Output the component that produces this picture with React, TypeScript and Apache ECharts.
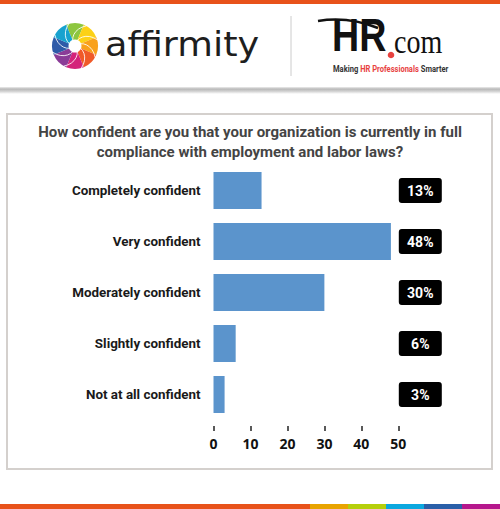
import React, { useEffect, useRef } from "react";
import * as echarts from "echarts";

const categories = [
  "Completely confident",
  "Very confident",
  "Moderately confident",
  "Slightly confident",
  "Not at all confident",
];
const percentValues = [13, 48, 30, 6, 3];
const xTicks = { min: 0, max: 50, interval: 10 };
const titleLines = [
  "How confident are you that your organization is currently in full",
  "compliance with employment and labor laws?",
];
const pinwheelColors = ["#8dc63f", "#fcd116", "#f9a11b", "#f05a28", "#d4237a", "#8a3b97", "#2e5aa8", "#17a2cf"];
const bottomStripe = [
  { x: 0, w: 310, c: "#e8521a" },
  { x: 310, w: 38, c: "#e8a400" },
  { x: 348, w: 38, c: "#b5cf0b" },
  { x: 386, w: 38, c: "#0ca8df" },
  { x: 424, w: 38, c: "#2a5fa8" },
  { x: 462, w: 38, c: "#b5178c" },
];

function buildGraphics() {
  const g: any[] = [];
  g.push({ type: "rect", shape: { x: 0, y: 0, width: 500, height: 4 }, style: { fill: "#e8521a" }, silent: true });
  g.push({
    type: "rect",
    shape: { x: 0, y: 87, width: 500, height: 7 },
    style: {
      fill: new echarts.graphic.LinearGradient(0, 0, 0, 1, [
        { offset: 0, color: "#ececec" },
        { offset: 0.3, color: "#b9b9b9" },
        { offset: 0.6, color: "#d0d0d0" },
        { offset: 1, color: "#ffffff" },
      ]),
    },
    silent: true,
  });
  const cx = 75, cy = 46, r = 23;
  pinwheelColors.forEach((c, i) => {
    const s = ((-112.5 + i * 45) * Math.PI) / 180;
    const e = ((-112.5 + (i + 1) * 45) * Math.PI) / 180;
    g.push({ type: "sector", shape: { cx, cy, r0: 0, r, startAngle: s, endAngle: e, clockwise: true }, style: { fill: c }, silent: true });
  });
  pinwheelColors.forEach((c, i) => {
    const a = ((-112.5 + i * 45) * Math.PI) / 180;
    const pts: number[][] = [];
    for (let k = 0; k <= 6; k++) {
      const t = k / 6;
      const rr = 6 + (r - 6) * t;
      const aa = a + 0.9 * t;
      pts.push([cx + rr * Math.cos(aa), cy + rr * Math.sin(aa)]);
    }
    g.push({ type: "polyline", shape: { points: pts }, style: { stroke: "rgba(255,255,255,0.85)", lineWidth: 1, fill: null }, silent: true });
  });
  g.push({ type: "circle", shape: { cx, cy, r: 6.5 }, style: { fill: "#ffffff" }, silent: true });
  g.push({
    type: "text",
    x: 105,
    y: 45,
    scaleX: 1.11,
    style: { text: "affirmity", font: "normal 33px 'DejaVu Sans'", fill: "#1e1e1e", textVerticalAlign: "middle", textAlign: "left" },
    silent: true,
  });
  g.push({ type: "line", shape: { x1: 291, y1: 16, x2: 291, y2: 76 }, style: { stroke: "#cccccc", lineWidth: 1 }, silent: true });
  g.push({
    type: "bezierCurve",
    shape: { x1: 318, y1: 21, cpx1: 348, cpy1: 16, x2: 378, y2: 28 },
    style: { stroke: "#111", lineWidth: 2.5, fill: null },
    silent: true,
  });
  g.push({
    type: "text",
    x: 332,
    y: 58,
    scaleX: 0.8,
    style: { text: "HR", font: "bold 47px 'Liberation Sans'", fill: "#111", textVerticalAlign: "bottom", textAlign: "left" },
    silent: true,
  });
  g.push({ type: "circle", shape: { cx: 391, cy: 55, r: 3.3 }, style: { fill: "#e8423f" }, silent: true });
  g.push({
    type: "text",
    x: 394,
    y: 59,
    scaleX: 0.85,
    style: { text: "com", font: "33px 'Liberation Serif'", fill: "#111", textVerticalAlign: "bottom", textAlign: "left" },
    silent: true,
  });
  g.push({
    type: "text",
    x: 333,
    y: 68.5,
    scaleX: 0.84,
    style: {
      text: "{a|Making }{b|HR Professionals}{a| Smarter}",
      textVerticalAlign: "middle",
      textAlign: "left",
      rich: {
        a: { font: "bold 9px Roboto", fill: "#333" },
        b: { font: "bold 9px Roboto", fill: "#e8423f" },
      },
    },
    silent: true,
  });
  g.push({ type: "rect", shape: { x: 7, y: 114, width: 485, height: 355 }, style: { fill: null, stroke: "#d4d0cd", lineWidth: 2 }, silent: true });
  titleLines.forEach((t, i) => {
    g.push({
      type: "text",
      x: 250,
      y: 132 + i * 20,
      style: { text: t, font: "bold 15px Roboto", fill: "#444", textAlign: "center", textVerticalAlign: "middle" },
      silent: true,
    });
  });
  bottomStripe.forEach((s) => {
    g.push({ type: "rect", shape: { x: s.x, y: 504, width: s.w, height: 5 }, style: { fill: s.c }, silent: true });
  });
  return g;
}

export default function App() {
  const ref = useRef<HTMLDivElement>(null);
  useEffect(() => {
    if (!ref.current) return;
    const chart = echarts.init(ref.current, null, { renderer: "svg" });
    chart.setOption({
      animation: false,
      backgroundColor: "#ffffff",
      grid: { left: 213.5, right: 101.7, top: 165, height: 255, containLabel: false },
      xAxis: {
        type: "value",
        min: xTicks.min,
        max: xTicks.max,
        interval: xTicks.interval,
        offset: 6,
        splitLine: { show: false },
        axisLine: { show: false },
        axisTick: { show: true, length: 5, lineStyle: { color: "#222", width: 1.5 } },
        axisLabel: { fontFamily: "'Open Sans'", fontWeight: "bold", fontSize: 14, color: "#111", margin: 10 },
      },
      yAxis: {
        type: "category",
        data: categories,
        inverse: true,
        axisLine: { show: false },
        axisTick: { show: false },
        axisLabel: { fontFamily: "Roboto", fontWeight: "bold", fontSize: 13.4, color: "#1a1a1a", margin: 13, padding: [0, 0, 4, 0] },
      },
      series: [
        {
          type: "bar",
          data: percentValues,
          barWidth: 37,
          itemStyle: { color: "#5b94cc" },
        },
        {
          type: "scatter",
          data: percentValues.map((_, i) => [xTicks.max, i]),
          symbolSize: 1,
          itemStyle: { color: "transparent", opacity: 1 },
          clip: false,
          label: {
            show: true,
            position: "right",
            distance: 0,
            opacity: 1,
            formatter: (p: any) => `{b|${percentValues[p.dataIndex]}%}`,
            rich: {
              b: {
                width: 43,
                height: 25,
                lineHeight: 25,
                align: "center",
                backgroundColor: "#000000",
                borderRadius: 3,
                color: "#ffffff",
                fontWeight: "bold",
                fontSize: 14,
                fontFamily: "Roboto",
              },
            },
          },
        },
      ],
      graphic: { elements: buildGraphics() },
    });
    return () => chart.dispose();
  }, []);
  return <div ref={ref} style={{ position: "fixed", left: 0, top: 0, width: 500, height: 509 }} />;
}
